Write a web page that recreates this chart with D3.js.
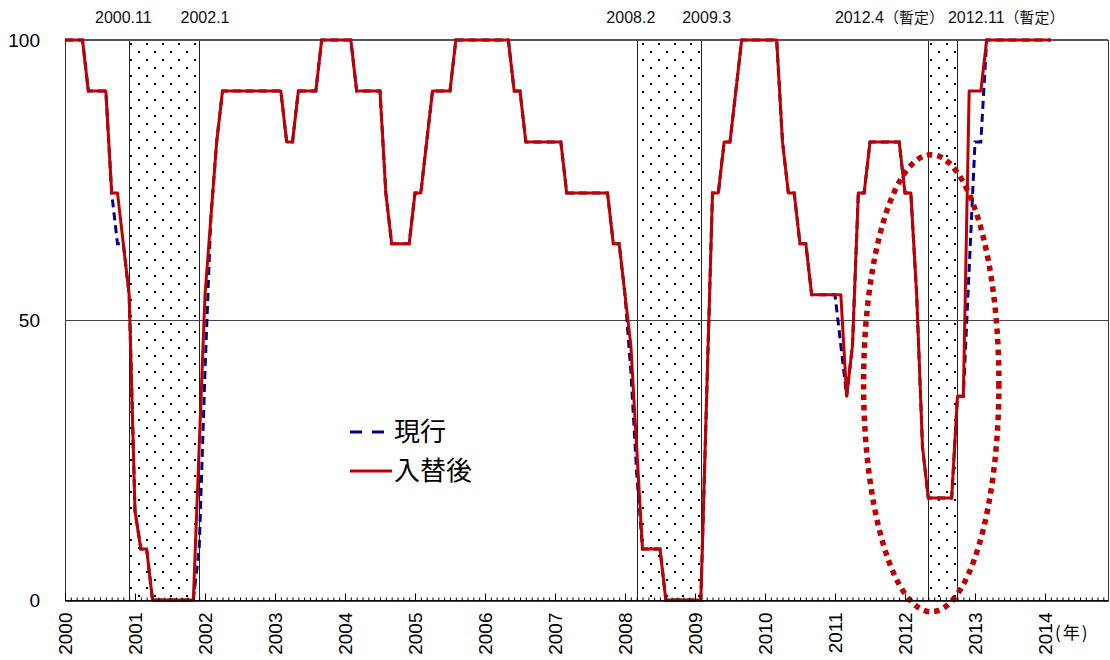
<!DOCTYPE html>
<html><head><meta charset="utf-8">
<script src="https://cdn.jsdelivr.net/npm/d3@7"></script>
<style>body{margin:0;background:#fff}</style>
</head><body>
<svg id="c" width="1110" height="660"></svg>
<script>
// ---- data (monthly, Jan 2000 – Feb 2014) ----
const yearLabels = ["2000","2001","2002","2003","2004","2005","2006","2007","2008","2009","2010","2011","2012","2013","2014"];
const seriesNames = ["現行", "入替後"];
// 現行 (current)
const current = [
  100,100,100,100,90.9,90.9,90.9,90.9,72.7,63.6,63.6,54.5,   // 2000
  15.9,9.1,9.1,0,0,0,0,0,0,0,0,9.1,                          // 2001
  40.9,68.2,81.8,90.9,90.9,90.9,90.9,90.9,90.9,90.9,90.9,90.9, // 2002
  90.9,90.9,81.8,81.8,90.9,90.9,90.9,90.9,100,100,100,100,   // 2003
  100,100,90.9,90.9,90.9,90.9,90.9,72.7,63.6,63.6,63.6,63.6, // 2004
  72.7,72.7,81.8,90.9,90.9,90.9,90.9,100,100,100,100,100,    // 2005
  100,100,100,100,100,90.9,90.9,81.8,81.8,81.8,81.8,81.8,    // 2006
  81.8,81.8,72.7,72.7,72.7,72.7,72.7,72.7,72.7,72.7,63.6,63.6, // 2007
  54.5,40.9,22.7,9.1,9.1,9.1,9.1,0,0,0,0,0,                  // 2008
  0,0,36.4,72.7,72.7,81.8,81.8,90.9,100,100,100,100,         // 2009
  100,100,100,81.8,72.7,72.7,63.6,63.6,54.5,54.5,54.5,54.5,  // 2010
  54.5,45.5,36.4,45.5,72.7,72.7,81.8,81.8,81.8,81.8,81.8,81.8, // 2011
  72.7,72.7,54.5,27.3,18.2,18.2,18.2,18.2,18.2,36.4,36.4,59.1, // 2012
  81.8,81.8,100,100,100,100,100,100,100,100,100,100,         // 2013
  100,100                                                    // 2014
];
// 入替後 (after replacement)
const revised = [
  100,100,100,100,90.9,90.9,90.9,90.9,72.7,72.7,63.6,54.5,   // 2000
  15.9,9.1,9.1,0,0,0,0,0,0,0,0,27.3,                         // 2001
  54.5,68.2,81.8,90.9,90.9,90.9,90.9,90.9,90.9,90.9,90.9,90.9, // 2002
  90.9,90.9,81.8,81.8,90.9,90.9,90.9,90.9,100,100,100,100,   // 2003
  100,100,90.9,90.9,90.9,90.9,90.9,72.7,63.6,63.6,63.6,63.6, // 2004
  72.7,72.7,81.8,90.9,90.9,90.9,90.9,100,100,100,100,100,    // 2005
  100,100,100,100,100,90.9,90.9,81.8,81.8,81.8,81.8,81.8,    // 2006
  81.8,81.8,72.7,72.7,72.7,72.7,72.7,72.7,72.7,72.7,63.6,63.6, // 2007
  54.5,45.5,27.3,9.1,9.1,9.1,9.1,0,0,0,0,0,                  // 2008
  0,0,36.4,72.7,72.7,81.8,81.8,90.9,100,100,100,100,         // 2009
  100,100,100,81.8,72.7,72.7,63.6,63.6,54.5,54.5,54.5,54.5,  // 2010
  54.5,54.5,36.4,45.5,72.7,72.7,81.8,81.8,81.8,81.8,81.8,81.8, // 2011
  72.7,72.7,54.5,27.3,18.2,18.2,18.2,18.2,18.2,36.4,36.4,90.9, // 2012
  90.9,90.9,100,100,100,100,100,100,100,100,100,100,         // 2013
  100,100                                                    // 2014
];
// business-cycle peaks / troughs (month index from Jan 2000)
const cycleLabels = ["2000.11","2002.1","2008.2","2009.3","2012.4（暫定）","2012.11（暫定）"];
const cycleMonths = [10, 24, 97, 110, 147, 154];
const yTicks = [0, 50, 100];
// highlighted region (ellipse) in data units: centre month, centre value, radii
const highlight = {month: 148.5, value: 38.7, rMonths: 11.6, rValue: 40.8};

// ---- layout ----
const svg = d3.select("#c");
const L = 65, R = 1108, T = 40, B = 600;
const x = d3.scaleLinear().domain([0, 178.8]).range([L, R]);
const y = d3.scaleLinear().domain([0, 100]).range([B, T]);
const latin = "'Liberation Sans', Arial, sans-serif";
const cjk = "'Noto Sans CJK JP', sans-serif";

// dot pattern
const defs = svg.append("defs");
const pat = defs.append("pattern").attr("id","dots").attr("patternUnits","userSpaceOnUse")
  .attr("width",16).attr("height",16).attr("x",0).attr("y",T+3);
pat.append("rect").attr("x",2).attr("y",0).attr("width",2).attr("height",2).attr("fill","#000");
pat.append("rect").attr("x",10).attr("y",8).attr("width",2).attr("height",2).attr("fill","#000");

// recession shading: from month after peak to month before trough
const periods = [];
for (let i = 0; i < cycleMonths.length; i += 2) periods.push([cycleMonths[i] + 1, cycleMonths[i+1] - 1]);
const sh = svg.append("g");
sh.selectAll("rect").data(periods).join("rect")
  .attr("x", d => x(d[0])).attr("y", T).attr("width", d => x(d[1]) - x(d[0])).attr("height", B - T)
  .attr("fill", "url(#dots)");
sh.selectAll("line").data(periods.flat()).join("line")
  .attr("x1", d => Math.round(x(d)) + 0.5).attr("x2", d => Math.round(x(d)) + 0.5)
  .attr("y1", T).attr("y2", B).attr("stroke", "#222").attr("stroke-width", 1);

// gridline at 50 and frame
svg.append("line").attr("x1", L).attr("x2", R).attr("y1", Math.round(y(50))+0.5).attr("y2", Math.round(y(50))+0.5)
  .attr("stroke", "#444").attr("stroke-width", 1);
svg.append("rect").attr("x", L+0.5).attr("y", T+0.5).attr("width", R-L).attr("height", B-T)
  .attr("fill", "none").attr("stroke", "#333").attr("stroke-width", 1);
svg.append("line").attr("x1", L).attr("x2", R).attr("y1", T).attr("y2", T)
  .attr("stroke", "#555").attr("stroke-width", 2);

// lines
const line = d3.line().x((d,i) => x(i)).y(d => y(d));
svg.append("path").datum(current).attr("d", line).attr("fill","none")
  .attr("stroke","#00008B").attr("stroke-width",3).attr("stroke-dasharray","8,5");
svg.append("path").datum(revised).attr("d", line).attr("fill","none")
  .attr("stroke","#C00000").attr("stroke-width",3).attr("stroke-linejoin","round");

// ellipse
svg.append("ellipse")
  .attr("cx", x(highlight.month)).attr("cy", y(highlight.value))
  .attr("rx", x(highlight.rMonths) - x(0)).attr("ry", y(0) - y(highlight.rValue))
  .attr("fill","none").attr("stroke","#C00000").attr("stroke-width",5.5).attr("stroke-dasharray","5.5,5");

// x axis: minor (monthly) and major (yearly) ticks, pointing inward
const gx = svg.append("g").attr("transform", `translate(0,${B+0.5})`);
gx.call(d3.axisBottom(x).tickValues(d3.range(0, 179)).tickSize(-3).tickFormat("").tickSizeOuter(0));
const gx2 = svg.append("g").attr("transform", `translate(0,${B+0.5})`);
gx2.call(d3.axisBottom(x).tickValues(yearLabels.map((d,i) => i*12)).tickSize(-7).tickSizeOuter(0)
  .tickFormat((d,i) => yearLabels[i]));
[gx, gx2].forEach(g => { g.select(".domain").attr("stroke","#000"); g.selectAll(".tick line").attr("stroke","#000"); });
gx2.selectAll(".tick text")
  .attr("transform","rotate(-90)").attr("x",-12).attr("y",0).attr("dy","0.36em")
  .style("text-anchor","end").style("font-family", latin).style("font-size","19px").attr("fill","#000");
svg.append("text").attr("x", 1055).attr("y", 639).text("(年)")
  .style("font-family", cjk).style("font-size","17px").style("letter-spacing","2px").attr("fill","#000");

// y axis labels
const gy = svg.append("g").attr("transform", `translate(${L},0)`);
gy.call(d3.axisLeft(y).tickValues(yTicks).tickSize(0).tickPadding(25).tickFormat(d3.format("d")));
gy.select(".domain").remove();
gy.selectAll("text").style("font-family", latin).style("font-size","19px").attr("fill","#000");

// cycle labels at top
const tl = svg.append("g").style("font-family", latin).style("font-size","16px").attr("fill","#111");
cycleLabels.forEach((lab, i) => {
  let ax = x(cycleMonths[i]), anchor = "middle";
  if (i === 4) { ax = (x(cycleMonths[4]) + x(cycleMonths[5]))/2 + 1; anchor = "end"; }
  if (i === 5) { ax = (x(cycleMonths[4]) + x(cycleMonths[5]))/2 + 5; anchor = "start"; }
  const t = tl.append("text").attr("x", ax).attr("y", 23).attr("text-anchor", anchor);
  const m = lab.match(/^([\d.]+)(.*)$/);
  t.append("tspan").text(m[1]);
  if (m[2]) t.append("tspan").style("font-family", cjk).style("font-size","15px").text(m[2]);
});

// legend
const lg = svg.append("g");
lg.append("line").attr("x1",350).attr("x2",384).attr("y1",432).attr("y2",432)
  .attr("stroke","#00008B").attr("stroke-width",3).attr("stroke-dasharray","12,10");
lg.append("line").attr("x1",350).attr("x2",392).attr("y1",471).attr("y2",471)
  .attr("stroke","#C00000").attr("stroke-width",3);
lg.selectAll("text").data(seriesNames).join("text")
  .attr("x",394).attr("y",(d,i) => 432 + i*39).attr("dy","0.36em").text(d => d)
  .style("font-family", cjk).style("font-size","26px").attr("fill","#000");
</script>
</body></html>
